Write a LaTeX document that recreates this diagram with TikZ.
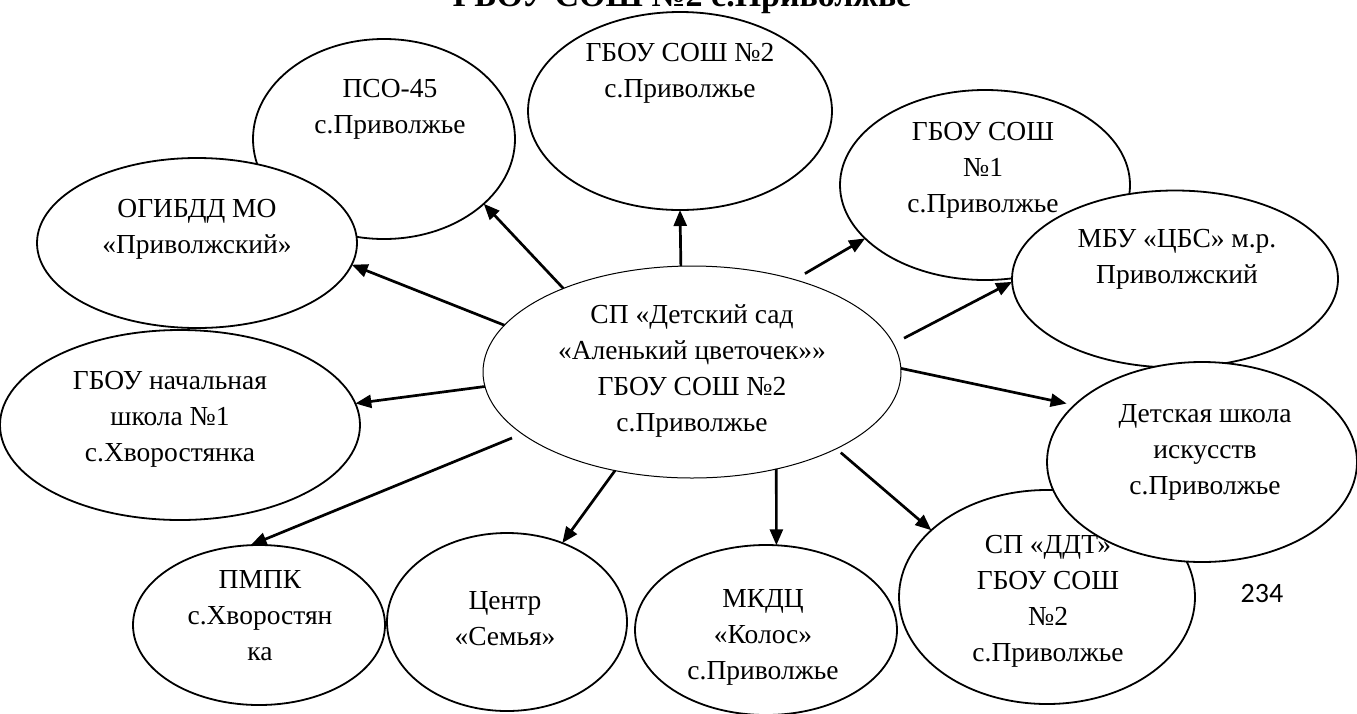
\documentclass[tikz,border=0pt]{standalone}
\usepackage{fontspec}
\setmainfont{Liberation Serif}
\newfontfamily\pagefont{Carlito}
\usetikzlibrary{shapes.geometric,arrows.meta}
\begin{document}
\begin{tikzpicture}[x=1pt,y=-1pt,
  ell/.style={ellipse,draw,fill=white,line width=1.8pt,inner sep=0pt,outer sep=0pt},
  txt/.style={align=center,font=\fontsize{27.5}{36}\selectfont,inner sep=0pt},
  arr/.style={line width=2.7pt,-{Triangle[length=16pt,width=13pt]}}]
\useasboundingbox (0,0) rectangle (1357,713);
\clip (0,0) rectangle (1357,713);
\fill[white] (0,0) rectangle (1357,713);
\node[anchor=base,inner sep=0pt,font=\bfseries\fontsize{34}{40}\selectfont] (title) at (682,6) {ГБОУ СОШ №2 с.Приволжье};
\node[ell,minimum width=262pt,minimum height=200pt] (pso) at (384,139) {};
\node[txt] (psot) at (390,109) {ПСО-45\\с.Приволжье};
\node[ell,minimum width=320pt,minimum height=170pt] (ogi) at (197,243) {};
\node[txt] (ogit) at (197,229) {ОГИБДД МО\\«Приволжский»};
\node[ell,minimum width=304pt,minimum height=198pt] (top) at (680,111) {};
\node[txt] (topt) at (680,73) {ГБОУ СОШ №2\\с.Приволжье};
\node[ell,minimum width=290pt,minimum height=190pt] (s1) at (985,185) {};
\node[txt] (s1t) at (983,170) {ГБОУ СОШ\\№1\\с.Приволжье};
\node[ell,minimum width=326pt,minimum height=177pt] (mbu) at (1175,279) {};
\node[txt] (mbut) at (1177,259) {МБУ «ЦБС» м.р.\\Приволжский};
\node[ell,minimum width=296pt,minimum height=214pt] (ddt) at (1047,597) {};
\node[txt] (ddtt) at (1048,601) {СП «ДДТ»\\ГБОУ СОШ\\№2\\с.Приволжье};
\node[ell,minimum width=310pt,minimum height=200pt] (dsi) at (1202,462) {};
\node[txt] (dsit) at (1205,452) {Детская школа\\искусств\\с.Приволжье};
\node[ell,minimum width=360pt,minimum height=190pt] (nsh) at (180,425) {};
\node[txt] (nsht) at (170,419) {ГБОУ начальная\\школа №1\\с.Хворостянка};
\node[ell,minimum width=252pt,minimum height=160pt] (pmpk) at (259,625) {};
\node[txt] (pmpkt) at (260,616) {ПМПК\\с.Хворостян\\ка};
\node[ell,minimum width=240pt,minimum height=178pt] (cs) at (507,622) {};
\node[txt] (cst) at (505,619) {Центр\\«Семья»};
\node[ell,minimum width=262pt,minimum height=170pt] (mk) at (766,630) {};
\node[txt] (mkt) at (763,637) {МКДЦ\\«Колос»\\с.Приволжье};
\node[ell,line width=1pt,minimum width=418pt,minimum height=212pt] (c) at (692,372) {};
\node[txt] (ct) at (692,371) {СП «Детский сад\\«Аленький цветочек»»\\ГБОУ СОШ №2\\с.Приволжье};
\draw[arr] (c.147.4) -- (pso.-33.8);
\draw[arr] (c.96.3) -- (top.-90);
\draw[arr,shorten <=12pt] (c.42.8) -- (s1.-156.2);
\draw[arr,shorten <=12pt] (c.8.7) -- (mbu.181);
\draw[arr,shorten >=8pt] (c.1) -- (dsi.156.3);
\draw[arr,shorten <=6pt] (c.-28.3) -- (ddt.150.2);
\draw[arr] (c.-49.4) -- (mk.83.3);
\draw[arr] (c.232.8) -- (cs.55);
\draw[arr,shorten <=11pt] (c.200.1) -- (pmpk.96.7);
\draw[arr] (c.184.1) -- (nsh.7.7);
\draw[arr] (c.166.9) -- (ogi.-8.9);
\node[font=\pagefont\fontsize{28}{34}\selectfont,inner sep=0pt] (pg) at (1262,593) {234};
\end{tikzpicture}
\end{document}
